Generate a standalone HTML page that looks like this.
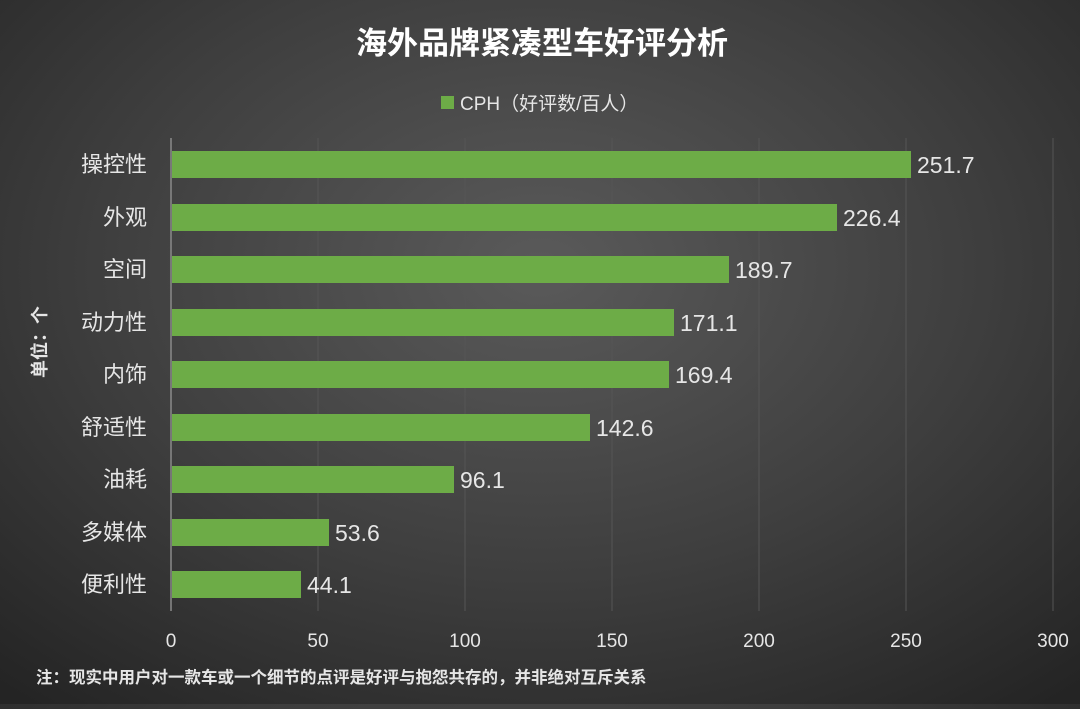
<!DOCTYPE html>
<html><head><meta charset="utf-8"><style>
html,body{margin:0;padding:0;}
body{width:1080px;height:704px;overflow:hidden;background:radial-gradient(ellipse 75% 80% at 50% 38%,#5a5a5a 0%,#3e3e3e 55%,#242424 100%);font-family:"Liberation Sans","Noto Sans CJK SC",sans-serif;}
svg text{font-family:"Liberation Sans","Noto Sans CJK SC",sans-serif;}
</style></head><body>
<svg width="1080" height="704" xmlns="http://www.w3.org/2000/svg">
<text x="542" y="54" text-anchor="middle" font-size="31" font-weight="bold" fill="#fff">海外品牌紧凑型车好评分析</text>
<rect x="441" y="96" width="13" height="13" fill="#6dac47"/>
<text x="460" y="110" font-size="19" fill="#e6e6e6">CPH（好评数/百人）</text>
<g stroke="#555" stroke-width="1">
<line x1="318" y1="138" x2="318" y2="611"/><line x1="465" y1="138" x2="465" y2="611"/>
<line x1="612" y1="138" x2="612" y2="611"/><line x1="759" y1="138" x2="759" y2="611"/>
<line x1="906" y1="138" x2="906" y2="611"/><line x1="1053" y1="138" x2="1053" y2="611"/>
</g>
<line x1="171" y1="138" x2="171" y2="611" stroke="#8a8a8a" stroke-width="1.5"/>
<g fill="#6dac47">
<rect x="172" y="151" width="739" height="27"/>
<rect x="172" y="204" width="665" height="27"/>
<rect x="172" y="256" width="557" height="27"/>
<rect x="172" y="309" width="502" height="27"/>
<rect x="172" y="361" width="497" height="27"/>
<rect x="172" y="414" width="418" height="27"/>
<rect x="172" y="466" width="282" height="27"/>
<rect x="172" y="519" width="157" height="27"/>
<rect x="172" y="571" width="129" height="27"/>
</g>
<g font-size="23" fill="#e6e6e6">
<text x="917" y="173">251.7</text><text x="843" y="226">226.4</text>
<text x="735" y="278">189.7</text><text x="680" y="331">171.1</text>
<text x="675" y="383">169.4</text><text x="596" y="436">142.6</text>
<text x="460" y="488">96.1</text><text x="335" y="541">53.6</text>
<text x="307" y="593">44.1</text>
</g>
<g font-size="22" fill="#e6e6e6" text-anchor="end">
<text x="147" y="172">操控性</text><text x="147" y="225">外观</text>
<text x="147" y="277">空间</text><text x="147" y="330">动力性</text>
<text x="147" y="382">内饰</text><text x="147" y="435">舒适性</text>
<text x="147" y="487">油耗</text><text x="147" y="540">多媒体</text>
<text x="147" y="592">便利性</text>
</g>
<g font-size="19" fill="#e6e6e6" text-anchor="middle">
<text x="171" y="647">0</text><text x="318" y="647">50</text><text x="465" y="647">100</text>
<text x="612" y="647">150</text><text x="759" y="647">200</text><text x="906" y="647">250</text>
<text x="1053" y="647">300</text>
</g>
<text transform="translate(46,342) rotate(-90)" text-anchor="middle" font-size="18" font-weight="bold" fill="#e6e6e6">单位：个</text>
<text x="36" y="683" font-size="16.5" font-weight="bold" fill="#e6e6e6">注：现实中用户对一款车或一个细节的点评是好评与抱怨共存的，并非绝对互斥关系</text>
</svg>
</body></html>
